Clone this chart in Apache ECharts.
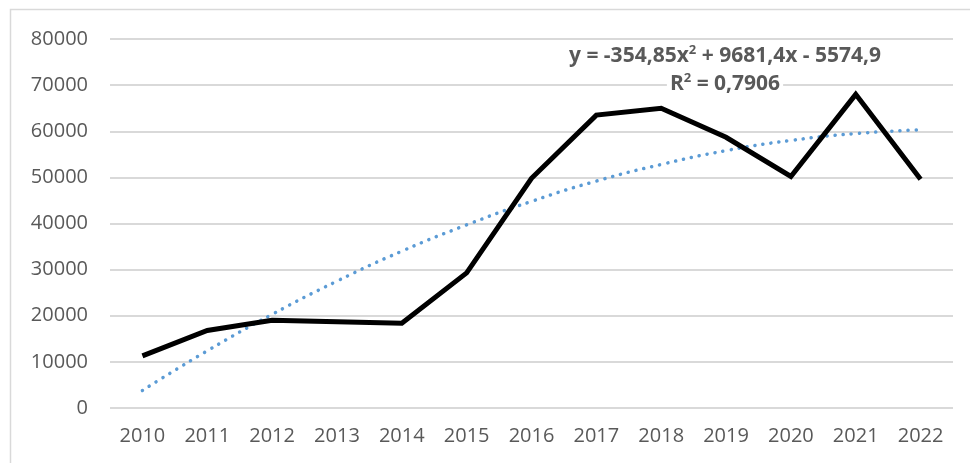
<!DOCTYPE html>
<html>
<head>
<meta charset="UTF-8">
<title>Trend chart</title>
<script src="https://cdn.jsdelivr.net/npm/echarts@6/dist/echarts.min.js"></script>
<style>
  body { margin:0px; background:#fff; }
  #chart { width:970px; height:463px; }
</style>
</head>
<body>
<div id="chart"></div>
<script>
// data
var years = ['2010','2011','2012','2013','2014','2015','2016','2017','2018','2019','2020','2021','2022'];
var values = [11300, 16800, 19000, 18700, 18400, 29300, 49800, 63500, 65000, 58700, 50200, 68000, 49600];
// polynomial trendline (dotted)
var trendValues = [3800, 12400, 20300, 27500, 34000, 39700, 44800, 49200, 52800, 55800, 58000, 59500, 60300];
var yTicks = [0, 10000, 20000, 30000, 40000, 50000, 60000, 70000, 80000];
var eqText = 'y = -354,85x{s|2} + 9681,4x - 5574,9';
var r2Text = 'R{s|2} = 0,7906';

var txtColor = '#595959';
var fontName = 'Open Sans';

function labelText(txt, y) {
  return {
    type: 'text',
    silent: true,
    z: 100,
    style: {
      text: txt, x: 725, y: y, align: 'center', verticalAlign: 'middle',
      fill: txtColor, fontFamily: fontName, fontWeight: 'bold', fontSize: 21,
      backgroundColor: '#fff', padding: [1, 3],
      rich: { s: { fontSize: 13, fontWeight: 'bold', fontFamily: fontName, fill: txtColor, padding: [0,0,11,0] } }
    }
  };
}

var myChart = echarts.init(document.getElementById('chart'), null, {renderer:'canvas'});
var option = {
  animation: false,
  backgroundColor: '#fff',
  grid: { left: 110, right: 17, top: 39, bottom: 55 },
  xAxis: {
    type: 'category',
    data: years,
    boundaryGap: true,
    axisLine: { show: false },
    axisTick: { show: false },
    axisLabel: { color: txtColor, fontFamily: fontName, fontSize: 20, margin: 18 }
  },
  yAxis: {
    type: 'value',
    min: yTicks[0],
    max: yTicks[yTicks.length-1],
    interval: 10000,
    axisLine: { show: false },
    axisTick: { show: false },
    splitLine: { lineStyle: { color: '#d9d9d9', width: 2 } },
    axisLabel: { color: txtColor, fontFamily: fontName, fontSize: 20, margin: 22,
      formatter: function (v) { return String(v); } }
  },
  series: [{
    name: 'values',
    type: 'line',
    data: values,
    showSymbol: false,
    lineStyle: { color: '#000', width: 5, join: 'miter' },
    z: 3
  }, {
    name: 'trend',
    type: 'line',
    data: trendValues,
    smooth: true,
    showSymbol: false,
    lineStyle: { color: '#5b9bd5', width: 3.5, type: [0.1, 8], cap: 'round' },
    z: 2
  }],
  graphic: [{
    type: 'rect',
    silent: true,
    shape: { x: 10.5, y: 9.5, width: 980, height: 480 },
    style: { fill: null, stroke: '#d9d9d9', lineWidth: 1.5 }
  },
    labelText(eqText, 56),
    labelText(r2Text, 84)
  ]
};
myChart.setOption(option);
</script>
</body>
</html>
